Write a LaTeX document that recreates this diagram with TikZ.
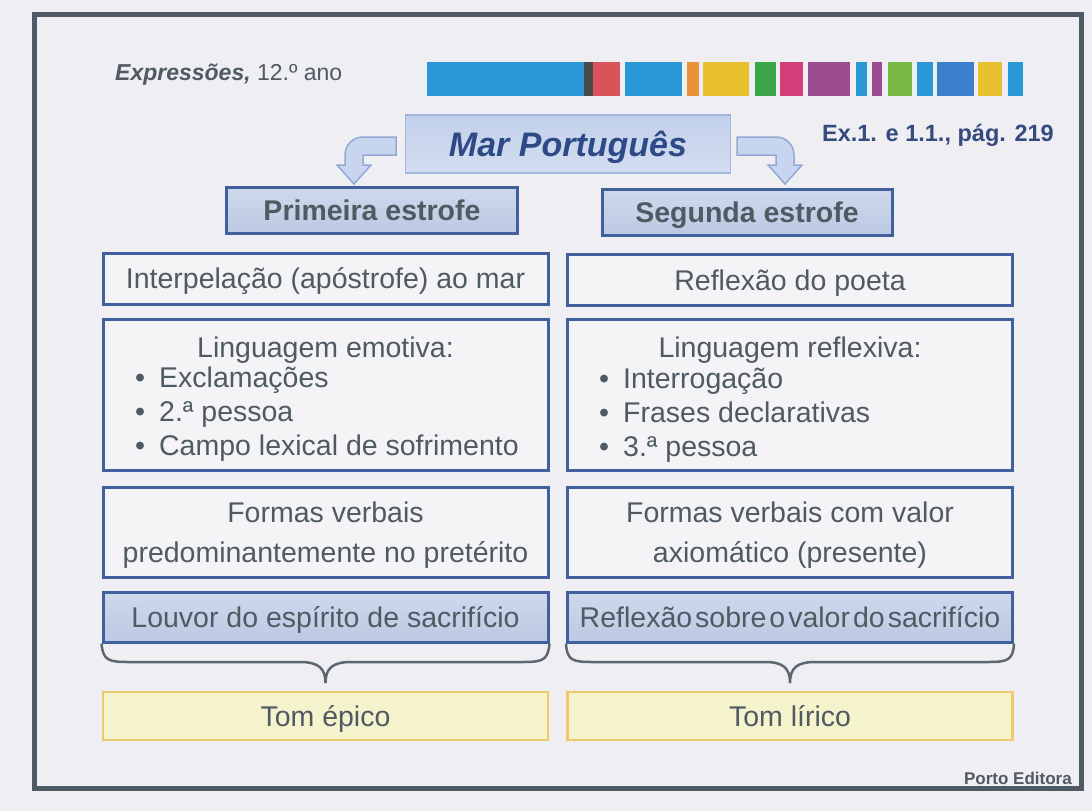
\documentclass[tikz,border=0pt]{standalone}
\usepackage{fontspec}
\setmainfont{Liberation Sans}
\usetikzlibrary{calc}
\definecolor{bg}{HTML}{EEEEF3}
\definecolor{txt}{HTML}{4F5A63}
\definecolor{boxblue}{HTML}{40609E}
\definecolor{hdrtop}{HTML}{CFD8EC}
\definecolor{hdrbot}{HTML}{BCC9E3}
\definecolor{titletop}{HTML}{C2D0EB}
\definecolor{titlebot}{HTML}{D4DDF0}
\definecolor{titledraw}{HTML}{A3B6DC}
\definecolor{titletxt}{HTML}{2E4A86}
\definecolor{exblue}{HTML}{354A7E}
\definecolor{tomfill}{HTML}{F5F3CB}
\definecolor{tomdraw}{HTML}{EDCB6B}
\definecolor{framec}{HTML}{4F5963}
\definecolor{bracec}{HTML}{5D6771}
\definecolor{arrfill}{HTML}{C8D5EE}
\definecolor{arrdraw}{HTML}{93A9D4}
\definecolor{cblue}{HTML}{2A98D7}
\definecolor{cdark}{HTML}{4A4A4A}
\definecolor{cred}{HTML}{D9535B}
\definecolor{corange}{HTML}{E8923A}
\definecolor{cyellow}{HTML}{E9C130}
\definecolor{cgreen}{HTML}{3AA54A}
\definecolor{cmagenta}{HTML}{D23D7B}
\definecolor{cpurple}{HTML}{9B4B8F}
\definecolor{clime}{HTML}{76B843}
\definecolor{cdblue}{HTML}{3B7FCF}
\tikzset{
  bodyfont/.style={font=\fontsize{28.5}{34}\selectfont},
  box/.style={draw=boxblue, line width=3pt, fill=white!35!bg, minimum width=445pt,
    inner sep=0pt, text=txt, bodyfont, text height=20.4pt, text depth=0pt},
  hdrbox/.style={box, fill=none, top color=hdrtop, bottom color=hdrbot},
  tombox/.style={box, draw=tomdraw, line width=2.5pt, fill=tomfill},
  line/.style={anchor=base, text=txt, bodyfont, inner sep=0pt},
  bul/.style={anchor=base west, text=txt, bodyfont, inner sep=0pt},
  bracestyle/.style={draw=bracec, line width=2.5pt},
  blockarrow/.style={draw=arrdraw, line width=1.5pt, fill=arrfill},
}
\begin{document}
\begin{tikzpicture}[x=1pt,y=-1pt]
\useasboundingbox (0,0) rectangle (1092,811);
\fill[bg] (0,0) rectangle (1092,811);
\draw[framec, line width=5pt] (34,14) rectangle (1081,788);

% colour bar
\fill[cblue] (427,62) rectangle (584,96);
\fill[cdark] (584,62) rectangle (593,96);
\fill[cred] (593,62) rectangle (620,96);
\fill[cblue] (625,62) rectangle (682,96);
\fill[corange] (687,62) rectangle (699,96);
\fill[cyellow] (703,62) rectangle (749,96);
\fill[cgreen] (755,62) rectangle (776,96);
\fill[cmagenta] (780,62) rectangle (803,96);
\fill[cpurple] (808,62) rectangle (850,96);
\fill[cblue] (856,62) rectangle (867,96);
\fill[cpurple] (872,62) rectangle (882,96);
\fill[clime] (888,62) rectangle (912,96);
\fill[cblue] (917,62) rectangle (933,96);
\fill[cdblue] (937,62) rectangle (974,96);
\fill[cyellow] (978,62) rectangle (1002,96);
\fill[cblue] (1008,62) rectangle (1023,96);

\node[anchor=base west, inner sep=0pt, text=txt, font=\fontsize{23}{28}\selectfont] (expr) at (115,80) {\textbf{\textit{Expressões,}} 12.º ano};
\node[anchor=base east, inner sep=0pt, text=exblue, font=\fontsize{23.5}{28}\selectfont\bfseries] (ex) at (1054,141) {Ex.1. e 1.1., pág. 219};
\node[anchor=base east, inner sep=0pt, text=framec, font=\fontsize{17}{20}\selectfont\bfseries] (pe) at (1072,784) {Porto Editora};

% title
\node[draw=titledraw, line width=1.5pt, top color=titletop, bottom color=titlebot,
  minimum width=325pt, minimum height=58pt, inner sep=0pt, text=titletxt,
  font=\fontsize{34}{40}\selectfont\bfseries\itshape, text height=24.3pt, text depth=0pt]
  (title) at (568,144) {Mar Português};

% bent block arrows
\draw[blockarrow] (396,137) -- (363,137) .. controls (353,137) and (345,145) .. (345,155)
  -- (345,165) -- (337,165) -- (354,184) -- (371,165) -- (363,165) -- (363,155) -- (396,155) -- cycle;
\draw[blockarrow] (737,137) -- (776,137) .. controls (786,137) and (794,145) .. (794,155)
  -- (794,165) -- (802,165) -- (785,184) -- (768,165) -- (776,165) -- (776,155) -- (737,155) -- cycle;

% headers
\node[hdrbox, minimum width=291pt, minimum height=46pt, font=\fontsize{28.5}{34}\selectfont\bfseries] (prim) at (372,210) {Primeira estrofe};
\node[hdrbox, minimum width=290pt, minimum height=46pt, font=\fontsize{28.5}{34}\selectfont\bfseries] (seg) at (747,212) {Segunda estrofe};

% left column
\node[box, minimum height=51pt] (c1L) at (325.5,278.5) {Interpelação (apóstrofe) ao mar};
\node[box, minimum height=151pt] (c2L) at (325.5,394.5) {};
\node[box, minimum height=90pt] (c3L) at (325.5,532) {};
\node[hdrbox, minimum height=50pt] (c4L) at (325.5,617) {Louvor do espírito de sacrifício};
\node[tombox, minimum height=48pt] (c5L) at (325.5,716) {Tom épico};

% right column
\node[box, minimum height=51pt] (c1R) at (790,280) {Reflexão do poeta};
\node[box, minimum height=151pt] (c2R) at (790,394.5) {};
\node[box, minimum height=90pt] (c3R) at (790,532.5) {};
\node[hdrbox, minimum height=50pt] (c4R) at (790,617) {\spaceskip=3pt Reflexão sobre o valor do sacrifício};
\node[tombox, minimum height=48pt] (c5R) at (790,716) {Tom lírico};

% list texts
\node[line] (l2t) at (325.5,357) {Linguagem emotiva:};
\node[bul] (l2a) at (135,387) {•\hspace{14pt}Exclamações};
\node[bul] (l2b) at (135,421) {•\hspace{14pt}2.ª pessoa};
\node[bul] (l2c) at (135,455) {•\hspace{14pt}Campo lexical de sofrimento};
\node[line] (r2t) at (790,357) {Linguagem reflexiva:};
\node[bul] (r2a) at (599,388) {•\hspace{14pt}Interrogação};
\node[bul] (r2b) at (599,422) {•\hspace{14pt}Frases declarativas};
\node[bul] (r2c) at (599,456) {•\hspace{14pt}3.ª pessoa};

\node[line] (l3a) at (325.5,522) {Formas verbais};
\node[line] (l3b) at (325.5,562) {predominantemente no pretérito};
\node[line] (r3a) at (790,522) {Formas verbais com valor};
\node[line] (r3b) at (790,562) {axiomático (presente)};

% braces
\draw[bracestyle] (c4L.south west) .. controls (103,660) and (108,662) .. (128,662) -- (300,662)
  .. controls (318,662) and (325.5,668) .. (325.5,683)
  .. controls (325.5,668) and (333,662) .. (351,662) -- (523,662)
  .. controls (543,662) and (548,660) .. (c4L.south east);
\draw[bracestyle] (c4R.south west) .. controls (567,660) and (572,662) .. (592,662) -- (765,662)
  .. controls (783,662) and (790,668) .. (790,683)
  .. controls (790,668) and (797,662) .. (815,662) -- (988,662)
  .. controls (1008,662) and (1013,660) .. (c4R.south east);
\end{tikzpicture}
\end{document}
